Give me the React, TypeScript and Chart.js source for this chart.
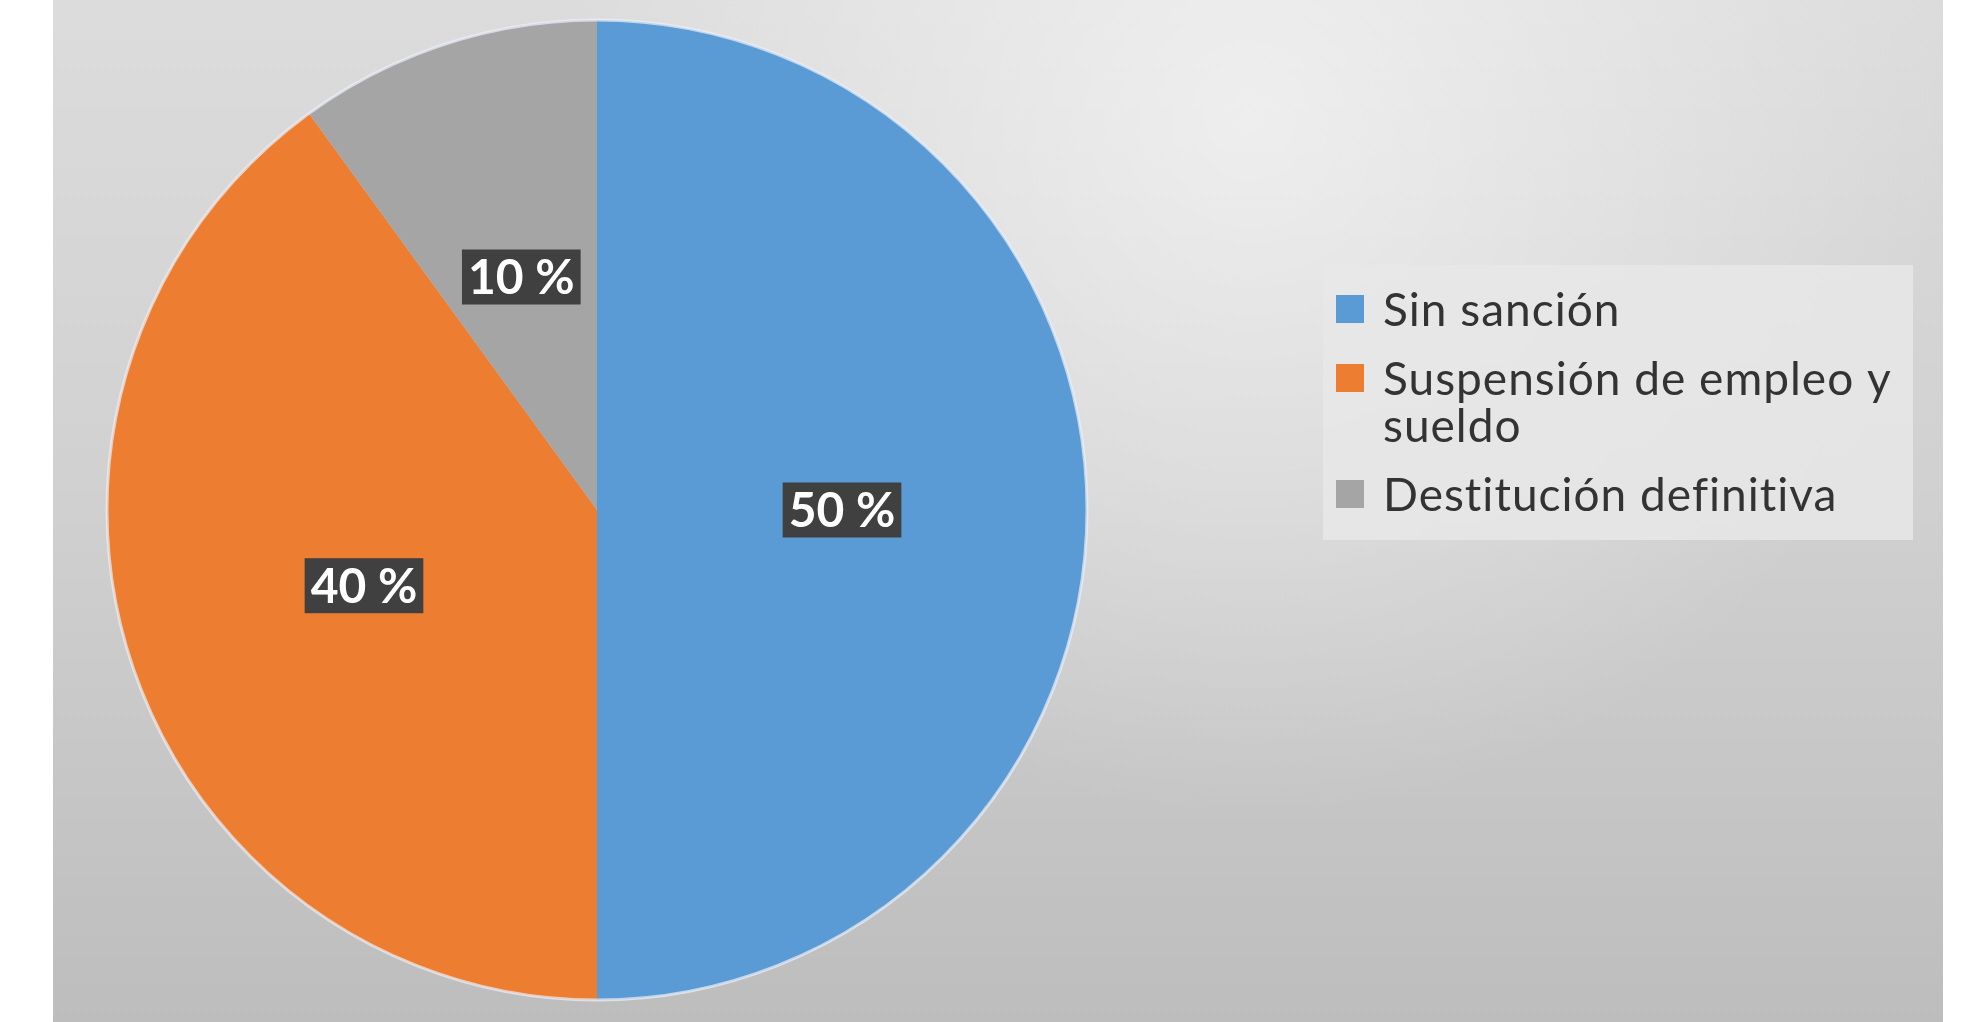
import React, { useEffect, useRef } from "react";
import { Chart, registerables } from "chart.js";

Chart.register(...registerables);

const categories = ["Sin sanción", "Suspensión de empleo y sueldo", "Destitución definitiva"];
const values = [50, 40, 10];
const valueLabels = ["50 %", "40 %", "10 %"];
const sliceColors = ["#5B9BD5", "#ED7D31", "#A5A5A5"];

const backgroundPlugin = {
  id: "bgPanel",
  beforeDraw(chart: any) {
    const ctx = chart.ctx;
    ctx.save();
    ctx.fillStyle = "#ffffff";
    ctx.fillRect(0, 0, chart.width, chart.height);
    const x0 = 53, x1 = 1943;
    const g = ctx.createLinearGradient(0, 0, 0, chart.height);
    g.addColorStop(0, "#dcdcdc");
    g.addColorStop(0.5, "#d0d0d0");
    g.addColorStop(1, "#bdbdbd");
    ctx.fillStyle = g;
    ctx.fillRect(x0, 0, x1 - x0, chart.height);
    const r = ctx.createRadialGradient(1250, 120, 0, 1250, 120, 700);
    r.addColorStop(0, "rgba(255,255,255,0.55)");
    r.addColorStop(1, "rgba(255,255,255,0)");
    ctx.fillStyle = r;
    ctx.fillRect(x0, 0, x1 - x0, chart.height);
    ctx.restore();
  },
};

const labelPlugin = {
  id: "valueBoxes",
  afterDatasetsDraw(chart: any) {
    const ctx = chart.ctx;
    const meta = chart.getDatasetMeta(0);
    ctx.save();
    const a0 = meta.data[0];
    ctx.beginPath();
    ctx.arc(a0.x, a0.y, a0.outerRadius, 0, Math.PI * 2);
    ctx.strokeStyle = "rgba(235,240,248,0.7)";
    ctx.lineWidth = 3;
    ctx.stroke();
    ctx.font = "bold 48px Lato";
    ctx.textAlign = "center";
    ctx.textBaseline = "middle";
    meta.data.forEach((arc: any, i: number) => {
      const p = arc.tooltipPosition();
      const text = valueLabels[i];
      const w = ctx.measureText(text).width + 12;
      const h = 55;
      ctx.fillStyle = "#404040";
      ctx.fillRect(p.x - w / 2, p.y - h / 2, w, h);
      ctx.fillStyle = "#ffffff";
      ctx.fillText(text, p.x, p.y + 2);
    });
    ctx.restore();
  },
};

const legendPlugin = {
  id: "sideLegend",
  afterDraw(chart: any) {
    const ctx = chart.ctx;
    const labels: string[] = chart.data.labels;
    const colors: string[] = chart.data.datasets[0].backgroundColor;
    ctx.save();
    ctx.fillStyle = "rgba(232,232,232,0.85)";
    ctx.fillRect(1323, 265, 590, 275);
    ctx.font = "46px Lato";
    (ctx as any).letterSpacing = "1px";
    ctx.textAlign = "left";
    ctx.textBaseline = "alphabetic";
    const textX = 1383;
    const maxW = 520;
    let baseline = 326;
    labels.forEach((lab, i) => {
      const words = lab.split(" ");
      const lines: string[] = [];
      let cur = "";
      words.forEach((w) => {
        const test = cur ? cur + " " + w : w;
        if (ctx.measureText(test).width > maxW && cur) {
          lines.push(cur);
          cur = w;
        } else cur = test;
      });
      if (cur) lines.push(cur);
      ctx.fillStyle = colors[i];
      ctx.fillRect(1336, baseline - 31, 28, 28);
      ctx.fillStyle = "#333333";
      lines.forEach((ln, j) => {
        ctx.fillText(ln, textX, baseline + j * 47);
      });
      baseline += (lines.length - 1) * 47 + 69;
    });
    ctx.restore();
  },
};

export default function App() {
  const ref = useRef<HTMLCanvasElement>(null);
  useEffect(() => {
    document.body.style.margin = "0";
    const chart = new Chart(ref.current as HTMLCanvasElement, {
      type: "pie",
      data: {
        labels: categories,
        datasets: [
          {
            data: values,
            backgroundColor: sliceColors,
            borderWidth: 0,
          },
        ],
      },
      options: {
        responsive: false,
        animation: false,
        layout: { padding: { left: 107, right: 893, top: 20, bottom: 22 } },
        plugins: {
          legend: { display: false },
          tooltip: { enabled: false },
        },
      },
      plugins: [backgroundPlugin, labelPlugin, legendPlugin],
    });
    return () => chart.destroy();
  }, []);
  return (
    <canvas ref={ref} width={1980} height={1022} style={{ display: "block", width: 1980, height: 1022 }} />
  );
}
